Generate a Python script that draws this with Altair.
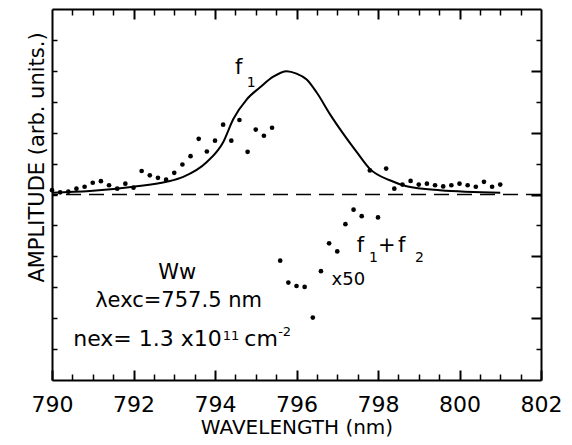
import altair as alt
import pandas as pd

# ---- data ----
# fitted curve f1
curve_x = [790.0, 790.93, 792.0, 792.81, 793.22, 793.80, 794.20, 794.45, 794.78, 795.10,
           795.43, 795.76, 796.0, 796.25, 796.50, 796.82, 797.15, 797.48, 797.80, 798.29,
           798.70, 799.52, 801.0]
curve_y = [0.06, 0.11, 0.25, 0.41, 0.57, 1.05, 1.69, 2.44, 3.08, 3.46,
           3.81, 3.99, 3.91, 3.72, 3.29, 2.60, 1.96, 1.37, 0.83, 0.46,
           0.27, 0.14, 0.06]

# measured points (upper, f1)
up_x = [790.0, 790.2, 790.4, 790.6, 790.8, 791.0, 791.2, 791.4, 791.6, 791.8,
        792.0, 792.2, 792.4, 792.6, 792.8, 793.0, 793.2, 793.4, 793.6, 793.8,
        794.0, 794.2, 794.4, 794.6, 794.8, 795.0, 795.2, 795.4,
        797.8, 798.2, 798.4, 798.6, 798.8, 799.0, 799.2, 799.4, 799.6, 799.8,
        800.0, 800.2, 800.4, 800.6, 800.8, 801.0]
up_y = [0.14, 0.07, 0.09, 0.19, 0.25, 0.38, 0.43, 0.30, 0.19, 0.35,
        0.22, 0.76, 0.62, 0.54, 0.48, 0.70, 0.97, 1.24, 1.80, 1.39,
        1.74, 2.26, 1.74, 2.41, 1.38, 2.10, 1.90, 2.16,
        0.78, 0.84, 0.19, 0.32, 0.44, 0.32, 0.35, 0.30, 0.26, 0.30,
        0.35, 0.30, 0.25, 0.41, 0.25, 0.32]

# measured points (lower, f1+f2, x50)
lo_x = [795.6, 795.8, 796.0, 796.2, 796.4, 796.6, 796.8, 797.0, 797.2, 797.4, 797.6, 798.0]
lo_y = [-2.14, -2.85, -2.96, -2.99, -3.98, -2.48, -1.58, -1.84, -0.96, -0.49, -0.70, -0.74]

# tick values
x_major = [790, 792, 794, 796, 798, 800, 802]
x_minor = [790.5, 791, 791.5, 792.5, 793, 793.5, 794.5, 795, 795.5, 796.5, 797, 797.5,
           798.5, 799, 799.5, 800.5, 801, 801.5]
x_top_major = [792, 794, 796, 798, 800]
y_left = [-5, -4, -3, -2, -1, 0, 1, 2, 3, 4, 5]
y_right_major = [-4, -2, 0, 2, 4]
y_right_minor = [-5, -3, -1, 1, 3, 5]

# annotations (left-anchored, alphabetic baseline)
big_text = ["f", "f", "+", "f", "Ww", "λexc=757.5 nm"]
big_x = [794.49, 797.48, 798.0, 798.49, 792.61, 791.06]
big_y = [3.90, -1.86, -1.86, -1.86, -2.72, -3.63]

nex_text = ["nex= 1.3 x10", "cm"]
nex_x = [790.52, 794.72]
nex_y = [-4.91, -4.91]

sub_text = ["1", "1", "2"]
sub_x = [794.78, 797.78, 798.91]
sub_y = [3.49, -2.18, -2.18]

sup_text = ["11", "-2"]
sup_x = [794.19, 795.55]
sup_y = [-4.70, -4.57]

mid_text = ["x50"]
mid_x = [796.86]
mid_y = [-2.93]

FONT = "DejaVu Sans"

xs = alt.Scale(domain=[790, 802], nice=False, zero=False)
ys = alt.Scale(domain=[-6, 6], nice=False, zero=False)


def tick_axis(orient, values, size, width):
    return alt.Axis(orient=orient, values=values, tickSize=size, offset=-size,
                    tickWidth=width, labels=False, domain=False, grid=False, title=None)


def frame_axis(orient):
    return alt.Axis(orient=orient, offset=0, domain=True, domainWidth=2, domainColor="black",
                    ticks=False, labels=False, grid=False, title=None)


def text_layer(texts, xv, yv, size, xaxis=None, yaxis=None):
    df = pd.DataFrame({"x": xv, "y": yv, "t": texts})
    return alt.Chart(df).mark_text(align="left", baseline="alphabetic", fontSize=size,
                                   font=FONT, color="black").encode(
        x=alt.X("x:Q", scale=xs, axis=xaxis),
        y=alt.Y("y:Q", scale=ys, axis=yaxis),
        text="t:N",
    )


curve_df = pd.DataFrame({"x": curve_x, "y": curve_y})
up_df = pd.DataFrame({"x": up_x, "y": up_y})
lo_df = pd.DataFrame({"x": lo_x, "y": lo_y})
zero_df = pd.DataFrame({"y": [0]})

zero = alt.Chart(zero_df).mark_rule(strokeDash=[15, 8], strokeWidth=1.5, color="black").encode(
    y=alt.Y("y:Q", scale=ys,
            axis=alt.Axis(orient="left", values=y_left, tickSize=5, offset=-5, tickWidth=1.5,
                          labels=False, domain=False, grid=False,
                          title="AMPLITUDE (arb. units.)", titleFontSize=21,
                          titleAngle=-90, titleX=-14, titleY=148,
                          titleBaseline="alphabetic"))
)

curve = alt.Chart(curve_df).mark_line(color="black", strokeWidth=2, interpolate="monotone").encode(
    x=alt.X("x:Q", scale=xs,
            axis=alt.Axis(orient="bottom", values=x_major, tickSize=10, offset=-10, tickWidth=2,
                          domain=False, grid=False, labelFontSize=22, labelPadding=14,
                          labelFlush=False, labelOverlap=False, format="d",
                          title="WAVELENGTH (nm)", titleFontSize=20,
                          titleY=63, titleBaseline="alphabetic")),
    y=alt.Y("y:Q", scale=ys, axis=tick_axis("right", y_right_major, 10, 2)),
)

up = alt.Chart(up_df).mark_circle(size=22, color="black", opacity=1).encode(
    x=alt.X("x:Q", scale=xs, axis=tick_axis("bottom", x_minor, 6, 1.5)),
    y=alt.Y("y:Q", scale=ys, axis=tick_axis("right", y_right_minor, 5, 1.5)),
)

lo = alt.Chart(lo_df).mark_circle(size=22, color="black", opacity=1).encode(
    x=alt.X("x:Q", scale=xs, axis=tick_axis("top", x_top_major, 10, 2)),
    y=alt.Y("y:Q", scale=ys, axis=frame_axis("left")),
)

big = text_layer(big_text, big_x, big_y, 21,
                 xaxis=tick_axis("top", x_minor, 6, 1.5), yaxis=frame_axis("right"))
sub = text_layer(sub_text, sub_x, sub_y, 14, xaxis=frame_axis("bottom"))
mid = text_layer(mid_text, mid_x, mid_y, 18, xaxis=frame_axis("top"))
nex = text_layer(nex_text, nex_x, nex_y, 22)
sup = text_layer(sup_text, sup_x, sup_y, 13)

chart = alt.layer(zero, curve, up, lo, big, sub, mid, nex, sup).resolve_axis(
    x="independent", y="independent"
).properties(
    width=489, height=371,
    autosize=alt.AutoSizeParams(type="none"),
    padding={"left": 44, "top": 1, "right": 20, "bottom": 57},
).configure_view(
    stroke="transparent"
).configure_axis(
    tickColor="black", labelColor="black", titleColor="black",
    labelFont=FONT, titleFont=FONT, titleFontWeight="normal",
)

chart.save("out.html", embed_options={"renderer": "svg", "actions": False})
